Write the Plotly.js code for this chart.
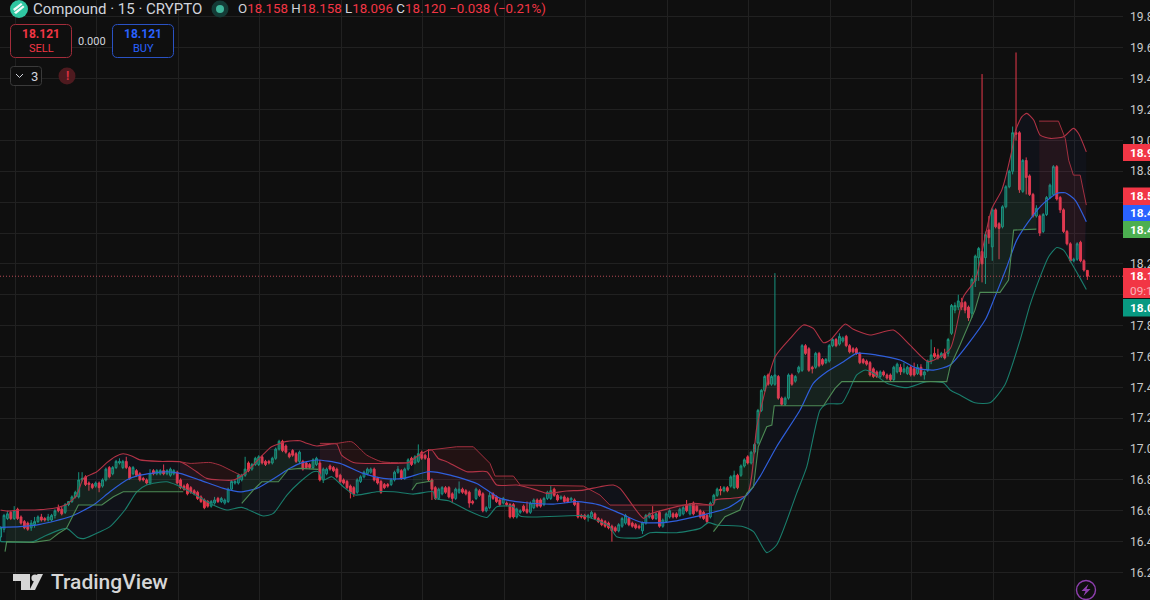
<!DOCTYPE html>
<html><head><meta charset="utf-8">
<script src="https://cdn.plot.ly/plotly-3.0.1.min.js"></script>
<style>html,body{margin:0;padding:0;width:1150px;height:600px;overflow:hidden;background:#0f0f0f}#c{width:1200px;height:610px}</style>
</head><body><div id="c"></div>
<script>
const firstBar = -4;
const opens = [
16.43,16.48,16.55,16.59,16.55,16.61,16.56,16.53,16.52,16.49,
16.51,16.53,16.56,16.55,16.54,16.54,16.57,16.62,16.61,16.59,
16.64,16.66,16.69,16.69,16.80,16.82,16.78,16.77,16.76,16.78,
16.76,16.80,16.88,16.84,16.88,16.91,16.88,16.92,16.88,16.84,
16.86,16.84,16.81,16.80,16.78,16.86,16.84,16.84,16.86,16.84,
16.83,16.84,16.85,16.80,16.76,16.77,16.75,16.73,16.72,16.69,
16.67,16.66,16.63,16.65,16.68,16.66,16.65,16.66,16.74,16.78,
16.78,16.80,16.83,16.91,16.87,16.90,16.90,16.95,16.92,16.92,
16.91,16.94,17.00,17.05,17.02,16.97,16.99,16.97,16.92,16.92,
16.91,16.90,16.88,16.90,16.91,16.80,16.84,16.89,16.88,16.87,
16.83,16.80,16.79,16.76,16.75,16.72,16.79,16.82,16.84,16.85,
16.87,16.81,16.79,16.77,16.77,16.77,16.80,16.85,16.86,16.81,
16.87,16.94,16.91,16.92,16.98,16.96,16.94,16.80,16.75,16.68,
16.71,16.75,16.75,16.71,16.68,16.72,16.74,16.73,16.72,16.66,
16.68,16.73,16.71,16.60,16.62,16.71,16.69,16.67,16.65,16.65,
16.64,16.64,16.56,16.59,16.63,16.61,16.59,16.62,16.67,16.67,
16.64,16.68,16.68,16.74,16.70,16.68,16.69,16.68,16.67,16.67,
16.65,16.57,16.57,16.56,16.56,16.58,16.55,16.54,16.53,16.52,
16.50,16.49,16.47,16.50,16.52,16.55,16.52,16.51,16.50,16.47,
16.52,16.56,16.57,16.55,16.59,16.50,16.53,16.56,16.58,16.58,
16.57,16.58,16.64,16.58,16.65,16.63,16.60,16.59,16.57,16.56,
16.65,16.70,16.74,16.73,16.75,16.76,16.75,16.83,16.83,16.89,
16.95,16.91,16.98,17.04,17.25,17.38,17.48,17.42,17.42,17.47,
17.33,17.29,17.33,17.48,17.44,17.50,17.51,17.67,17.65,17.53,
17.53,17.62,17.58,17.56,17.57,17.67,17.71,17.68,17.70,17.73,
17.67,17.65,17.65,17.62,17.58,17.57,17.56,17.52,17.50,17.47,
17.50,17.48,17.48,17.45,17.50,17.53,17.50,17.49,17.53,17.52,
17.49,17.53,17.48,17.51,17.57,17.62,17.61,17.60,17.62,17.62,
17.75,17.90,17.92,17.95,17.95,17.92,17.88,18.09,18.24,18.28,
18.24,18.42,18.31,18.55,18.46,18.44,18.57,18.70,18.80,19.05,
19.05,18.67,18.87,18.77,18.65,18.51,18.51,18.41,18.52,18.63,
18.65,18.83,18.63,18.55,18.41,18.33,18.22,18.23,18.34,18.22,18.158];
const closes = [
16.49,16.57,16.58,16.55,16.60,16.55,16.52,16.49,16.48,16.52,
16.53,16.56,16.54,16.54,16.56,16.57,16.60,16.60,16.58,16.64,
16.66,16.69,16.72,16.80,16.81,16.77,16.77,16.75,16.78,16.75,
16.80,16.87,16.82,16.88,16.92,16.92,16.92,16.88,16.81,16.88,
16.83,16.80,16.80,16.78,16.84,16.84,16.86,16.86,16.84,16.86,
16.87,16.86,16.78,16.75,16.74,16.71,16.72,16.71,16.68,16.66,
16.62,16.63,16.66,16.67,16.66,16.68,16.67,16.74,16.79,16.79,
16.83,16.83,16.87,16.86,16.90,16.94,16.95,16.91,16.90,16.91,
16.94,17.00,17.05,16.99,16.98,16.95,16.96,16.92,16.98,16.87,
16.88,16.88,16.93,16.94,16.80,16.87,16.87,16.87,16.86,16.82,
16.79,16.78,16.75,16.72,16.71,16.80,16.82,16.85,16.87,16.87,
16.80,16.78,16.72,16.75,16.76,16.80,16.85,16.87,16.81,16.87,
16.93,16.90,16.95,16.97,16.94,16.94,16.80,16.74,16.68,16.74,
16.75,16.72,16.69,16.68,16.74,16.74,16.72,16.71,16.65,16.65,
16.74,16.70,16.60,16.62,16.70,16.68,16.66,16.64,16.68,16.64,
16.56,16.56,16.61,16.60,16.60,16.59,16.65,16.67,16.63,16.63,
16.68,16.72,16.73,16.70,16.67,16.69,16.66,16.66,16.68,16.64,
16.56,16.56,16.55,16.57,16.59,16.55,16.53,16.51,16.50,16.49,
16.47,16.47,16.51,16.55,16.57,16.51,16.50,16.49,16.49,16.52,
16.57,16.58,16.55,16.58,16.50,16.54,16.58,16.60,16.56,16.56,
16.61,16.62,16.60,16.64,16.58,16.60,16.56,16.55,16.53,16.65,
16.70,16.74,16.73,16.75,16.73,16.82,16.83,16.75,16.89,16.93,
16.91,16.98,17.03,17.25,17.38,17.47,17.42,17.47,17.48,17.33,
17.29,17.33,17.48,17.42,17.47,17.53,17.67,17.62,17.51,17.52,
17.62,17.54,17.55,17.58,17.67,17.71,17.67,17.73,17.72,17.67,
17.63,17.63,17.62,17.56,17.56,17.55,17.48,17.47,17.47,17.50,
17.48,17.46,17.45,17.53,17.55,17.50,17.52,17.53,17.48,17.48,
17.53,17.48,17.50,17.57,17.61,17.60,17.59,17.62,17.59,17.71,
17.93,17.93,17.96,17.92,17.90,17.85,18.10,18.25,18.30,18.20,
18.39,18.37,18.55,18.44,18.43,18.57,18.70,18.80,19.05,19.04,
18.68,18.87,18.76,18.65,18.51,18.56,18.40,18.52,18.63,18.71,
18.83,18.62,18.55,18.41,18.33,18.22,18.23,18.33,18.22,18.16,18.120];
const highs = [
16.50,16.58,16.60,16.60,16.63,16.62,16.57,16.54,16.53,16.54,
16.56,16.57,16.58,16.56,16.58,16.58,16.61,16.64,16.63,16.65,
16.66,16.70,16.73,16.85,16.85,16.83,16.79,16.78,16.79,16.79,
16.81,16.88,16.89,16.89,16.93,16.94,16.93,16.95,16.89,16.89,
16.87,16.85,16.82,16.81,16.87,16.87,16.87,16.87,16.90,16.87,
16.88,16.87,16.86,16.81,16.77,16.78,16.76,16.74,16.73,16.70,
16.68,16.67,16.67,16.69,16.69,16.69,16.68,16.75,16.80,16.80,
16.84,16.84,16.95,16.92,16.91,16.95,16.96,16.96,16.93,16.93,
16.95,17.01,17.06,17.06,17.03,16.98,17.00,16.98,16.99,16.93,
16.92,16.91,16.94,16.95,16.93,16.88,16.88,16.90,16.89,16.88,
16.84,16.81,16.80,16.77,16.76,16.81,16.83,16.86,16.88,16.88,
16.88,16.82,16.80,16.78,16.78,16.81,16.86,16.89,16.87,16.88,
16.94,16.95,16.96,17.03,16.99,16.97,17.00,16.81,16.76,16.75,
16.76,16.76,16.76,16.72,16.75,16.79,16.75,16.74,16.73,16.67,
16.75,16.74,16.72,16.63,16.72,16.72,16.70,16.68,16.69,16.66,
16.65,16.65,16.62,16.61,16.64,16.66,16.66,16.68,16.68,16.68,
16.69,16.73,16.76,16.75,16.71,16.70,16.70,16.69,16.69,16.68,
16.66,16.58,16.58,16.58,16.60,16.59,16.56,16.55,16.54,16.53,
16.51,16.50,16.52,16.56,16.58,16.56,16.53,16.52,16.51,16.53,
16.58,16.59,16.63,16.59,16.60,16.55,16.59,16.61,16.59,16.59,
16.62,16.63,16.67,16.65,16.66,16.64,16.61,16.60,16.58,16.66,
16.71,16.75,16.76,16.76,16.76,16.83,16.86,16.84,16.90,16.94,
16.96,16.99,17.04,17.26,17.39,17.48,17.49,17.48,18.14,17.48,
17.34,17.34,17.49,17.49,17.48,17.54,17.68,17.68,17.66,17.54,
17.63,17.63,17.59,17.59,17.68,17.72,17.72,17.75,17.73,17.74,
17.68,17.66,17.66,17.63,17.59,17.58,17.57,17.53,17.51,17.51,
17.51,17.49,17.49,17.54,17.56,17.55,17.56,17.54,17.54,17.56,
17.55,17.55,17.51,17.58,17.71,17.66,17.65,17.63,17.65,17.72,
17.94,17.95,18.00,17.98,17.96,17.93,18.11,18.26,18.31,19.43,
18.41,18.51,18.56,18.56,18.47,18.58,18.71,18.81,19.09,19.57,
19.06,18.88,18.89,18.78,18.66,18.58,18.52,18.53,18.64,18.72,
18.84,18.84,18.64,18.56,18.42,18.34,18.24,18.34,18.35,18.23,18.158];
const lows = [
16.40,16.46,16.54,16.54,16.54,16.54,16.51,16.48,16.47,16.47,
16.49,16.52,16.53,16.53,16.53,16.53,16.55,16.59,16.57,16.58,
16.63,16.65,16.68,16.68,16.79,16.76,16.73,16.74,16.75,16.72,
16.75,16.79,16.81,16.83,16.87,16.90,16.87,16.87,16.80,16.83,
16.82,16.79,16.79,16.77,16.77,16.83,16.83,16.83,16.83,16.83,
16.82,16.83,16.77,16.74,16.73,16.70,16.71,16.70,16.67,16.65,
16.61,16.62,16.62,16.64,16.65,16.65,16.64,16.65,16.73,16.77,
16.77,16.79,16.82,16.85,16.86,16.89,16.89,16.90,16.89,16.90,
16.90,16.93,16.99,16.98,16.97,16.94,16.95,16.91,16.91,16.86,
16.87,16.87,16.87,16.89,16.79,16.78,16.83,16.86,16.85,16.81,
16.78,16.77,16.74,16.68,16.69,16.71,16.78,16.81,16.83,16.84,
16.79,16.77,16.71,16.74,16.75,16.76,16.79,16.84,16.80,16.80,
16.86,16.89,16.90,16.91,16.93,16.93,16.79,16.67,16.67,16.67,
16.70,16.71,16.68,16.65,16.67,16.71,16.71,16.70,16.62,16.64,
16.67,16.69,16.59,16.59,16.61,16.67,16.65,16.63,16.64,16.63,
16.55,16.55,16.55,16.58,16.59,16.58,16.58,16.61,16.62,16.62,
16.63,16.67,16.67,16.69,16.66,16.67,16.65,16.65,16.66,16.63,
16.55,16.55,16.54,16.53,16.55,16.54,16.52,16.50,16.49,16.48,
16.40,16.46,16.46,16.49,16.51,16.50,16.49,16.48,16.48,16.45,
16.51,16.55,16.54,16.54,16.49,16.49,16.52,16.55,16.55,16.55,
16.56,16.57,16.59,16.57,16.57,16.59,16.55,16.54,16.52,16.55,
16.64,16.69,16.70,16.72,16.72,16.75,16.74,16.74,16.82,16.88,
16.90,16.90,16.97,17.03,17.24,17.37,17.41,17.41,17.41,17.32,
17.28,17.28,17.32,17.41,17.43,17.49,17.50,17.61,17.50,17.49,
17.52,17.53,17.54,17.55,17.56,17.66,17.66,17.67,17.69,17.66,
17.62,17.62,17.61,17.55,17.55,17.54,17.47,17.46,17.46,17.46,
17.47,17.45,17.44,17.44,17.49,17.48,17.49,17.48,17.47,17.47,
17.48,17.47,17.45,17.50,17.55,17.59,17.58,17.59,17.58,17.60,
17.74,17.88,17.90,17.90,17.88,17.83,17.85,18.05,18.09,18.08,
18.07,18.33,18.22,18.43,18.23,18.43,18.56,18.69,18.78,19.00,
18.66,18.66,18.65,18.64,18.50,18.50,18.38,18.40,18.51,18.62,
18.64,18.61,18.53,18.40,18.32,18.21,18.21,18.22,18.21,18.15,18.096];

const bbUpperBars = [-4,-2,2,6,12.5,15.4,18.4,20.4,24.3,27.2,29.7,32.1,34.6,37,43,48.8,50.8,53.7,56.7,64.5,67,69,73.4,75.8,80.3,84.2,86.1,89.1,93,95,96.4,99.9,108.7,116.1,118.5,122,123,124.9,127.4,133.3,139.2,142.1,148,153.9,156.8,162.7,167.6,172.5,176.4,178.4,185.3,187.2,200,205.9,206.4,215.7,218.7,224.1,228.5,232.4,235.3,238.3,240.3,244.7,247.1,252,258.9,263.8,269.2,275.6,279.5,283,284.9,285.9,287.9,290.8,293.8,294.9,296.7,298.2,300.2,302.1,305.1,309,311.9,313.4,315.7];
const bbUpperPrices = [16.605,16.598,16.605,16.605,16.62,16.64,16.70,16.81,16.853,16.91,16.95,16.97,16.955,16.93,16.92,16.918,16.896,16.853,16.81,16.799,16.827,16.864,16.967,17.015,17.05,17.054,17.037,17.02,17.032,17.032,16.961,16.913,16.907,16.913,16.95,16.993,16.993,16.939,16.918,16.853,16.853,16.767,16.767,16.734,16.713,16.728,16.734,16.756,16.767,16.745,16.551,16.579,16.648,16.638,16.67,16.702,17.145,17.599,17.717,17.804,17.782,17.689,17.707,17.81,17.776,17.739,17.771,17.674,17.566,17.65,17.987,18.095,18.27,18.376,18.56,18.678,18.937,19.067,19.153,19.175,19.132,19.034,19.013,19.024,19.078,19.045,18.926];
const bbLowerBars = [-4,5.6,8.6,15.4,18.9,20.8,25.3,28.2,32.6,36.1,39,44.9,47.8,51.8,58.6,62.6,67,73.4,76.3,80.3,84.2,88.1,89.6,91,93.5,96.9,100.4,106.7,111.7,117.5,122,123.4,123.9,127.9,133.3,139.2,142.1,147,149,167.6,172.5,175.4,177.4,184.3,187.2,195.1,202,204.4,206.9,214.7,217.7,221.6,224.5,230.4,233.4,237.3,239.3,243.7,245.7,248.1,250.6,253,257,262.8,268.7,273.6,275.6,278.5,282.9,287.3,291.7,296.2,299.1,302.1,304.6,307,309,311.4,313.9,315.7];
const bbLowerPrices = [16.40,16.40,16.432,16.486,16.425,16.421,16.464,16.497,16.605,16.723,16.767,16.788,16.767,16.723,16.637,16.605,16.622,16.566,16.583,16.702,16.788,16.853,16.853,16.799,16.821,16.756,16.702,16.723,16.723,16.708,16.723,16.723,16.68,16.665,16.605,16.557,16.626,16.626,16.566,16.568,16.53,16.497,16.432,16.426,16.458,16.458,16.486,16.523,16.508,16.497,16.465,16.329,16.378,16.713,16.886,17.253,17.292,17.296,17.372,17.48,17.512,17.491,17.426,17.398,17.437,17.43,17.383,17.35,17.30,17.30,17.415,17.706,17.933,18.116,18.246,18.306,18.289,18.203,18.106,18.034];
const basisBars = [-4,1.7,7.6,16.4,23.3,28.2,33.1,37,44.9,48.8,54.7,61.6,66.5,71.4,77.3,81.2,84.2,89.1,95.9,102.8,108.7,114.6,122,128.4,136.2,143.1,150.9,158.8,165.7,172.5,178.4,184.8,192.1,202.9,209.8,215.7,219.6,224.5,231.4,235.3,239.3,244.2,248.1,254,260.9,265.8,270.7,275.6,285.9,288.4,292.3,295.2,299.7,303.1,307,309.5,312.4,315.7];
const basisPrices = [16.492,16.497,16.512,16.561,16.637,16.723,16.799,16.831,16.853,16.842,16.799,16.745,16.723,16.745,16.821,16.875,16.907,16.929,16.907,16.842,16.81,16.81,16.853,16.831,16.777,16.68,16.652,16.643,16.659,16.637,16.583,16.525,16.525,16.573,16.616,16.702,16.821,17.015,17.253,17.426,17.501,17.566,17.62,17.609,17.577,17.523,17.512,17.545,17.836,17.965,18.181,18.354,18.505,18.592,18.656,18.661,18.613,18.473];

const resistanceA = {bars:[48.8,51.8,57.7,60.6,63.6,67], prices:[16.918,16.907,16.913,16.896,16.864,16.827]};
const resistanceB = {bars:[90,95,99.4,103.8,108.2,116.1], prices:[17.037,17.037,17.047,16.961,16.918,16.911]};
const resistanceC = {bars:[122,126.4,130.3,135.2,140.1,141.6,147,149,167.6,172.5,175.4,205.9], prices:[16.993,17.004,17.015,17.015,16.907,16.825,16.825,16.767,16.76,16.702,16.637,16.637]};
const resistanceD = {bars:[301.8,307.5,309.5,310.5,311.9,313.9,315.7], prices:[19.125,19.125,19.013,18.872,18.775,18.775,18.581]};
const supportA = {bars:[-2.7,-2.2,5.6,10.5,13,15.4,17.4,18.9,25.8,29.2,32.1,49.8], prices:[16.335,16.40,16.395,16.41,16.453,16.486,16.572,16.637,16.637,16.691,16.723,16.723]};
const supportB = {bars:[67,70.4,72.9,77.8,80.7,84.2,89.6], prices:[16.648,16.734,16.788,16.788,16.868,16.875,16.868]};
const supportC = {bars:[117.1,118.5,123.4], prices:[16.734,16.777,16.795]};
const supportD = {bars:[205.9,209.3,213.7,215.7,217.7,219.1,221.6,223.1,223.8,238.3,241.7,243.7,274.6,275.6,278.5,282.9,284.4,290.3,292.8,294.3,301], prices:[16.465,16.562,16.605,16.713,16.756,17.015,17.145,17.156,17.281,17.281,17.393,17.437,17.437,17.534,17.674,17.90,18.015,18.015,18.095,18.419,18.425]};

const priceTicks = [16.0,16.2,16.4,16.6,16.8,17.0,17.2,17.4,17.6,17.8,18.0,18.2,18.4,18.6,18.8,19.0,19.2,19.4,19.6,19.8];
const priceTickLabels = ['16.000','16.200','16.400','16.600','16.800','17.000','17.200','17.400','17.600','17.800','','18.200','','','18.800','19.000','19.200','19.400','19.600','19.800'];
const gridBars = [0.24,24.24,48.24,72.24,96.24,120.24,144.24,168.24,192.24,216.24,240.24,264.24,288.24,312.24];
const lastPrice = 18.12;
const legendTitle = 'Compound · 15 · CRYPTO';
const legendOHLC = '<span style="color:#d1d4dc">O</span>18.158 <span style="color:#d1d4dc">H</span>18.158 <span style="color:#d1d4dc">L</span>18.096 <span style="color:#d1d4dc">C</span>18.120 −0.038 (−0.21%)';
const priceTags = [
 {top:144,bottom:161,color:'#f23645',text:'18.926'},
 {top:187.5,bottom:205,color:'#f23645',text:'18.581'},
 {top:205,bottom:221,color:'#2962ff',text:'18.473'},
 {top:221,bottom:238,color:'#4caf50',text:'18.425'},
 {top:268,bottom:298,color:'#f23645',text:'18.120<br><span style="color:#f7b3ba;font-weight:400">09:14</span>'},
 {top:299,bottom:316.5,color:'#089981',text:'18.034'}
];

const bars = opens.map((_, k) => k + firstBar);
const fx = px => px / 1123, fy = py => 1 - py / 610;
const P = (x, y) => fx(x) + ',' + fy(y);
function roundRect(x0, y0, x1, y1, r) {
  return 'M' + P(x0 + r, y0) + ' L' + P(x1 - r, y0) + ' Q' + P(x1, y0) + ' ' + P(x1, y0 + r) +
    ' L' + P(x1, y1 - r) + ' Q' + P(x1, y1) + ' ' + P(x1 - r, y1) + ' L' + P(x0 + r, y1) +
    ' Q' + P(x0, y1) + ' ' + P(x0, y1 - r) + ' L' + P(x0, y0 + r) + ' Q' + P(x0, y0) + ' ' + P(x0 + r, y0) + ' Z';
}
function poly(pts) { return 'M' + pts.map(p => P(p[0], p[1])).join(' L') + ' Z'; }
function rr(x0, y0, x1, y1, r, line, fill, lw) {
  return {type:'path', xref:'paper', yref:'paper', path:roundRect(x0, y0, x1, y1, r), line:{color:line, width:lw || 1}, fillcolor:fill || 'rgba(0,0,0,0)', layer:'above'};
}
function circle(cx, cy, r, line, fill, lw) {
  return {type:'circle', xref:'paper', yref:'paper', x0:fx(cx - r), x1:fx(cx + r), y0:fy(cy + r), y1:fy(cy - r), line:{color:line, width:lw === undefined ? 1 : lw}, fillcolor:fill || 'rgba(0,0,0,0)', layer:'above'};
}
function solid(pts, color) {
  return {type:'path', xref:'paper', yref:'paper', path:poly(pts), line:{width:0}, fillcolor:color, layer:'above'};
}
function note(x, y, text, size, color, anchor, extra) {
  return Object.assign({xref:'paper', yref:'paper', x:fx(x), y:fy(y), text:text, showarrow:false, xanchor:anchor || 'left', yanchor:'middle', align:'left', font:Object.assign({family:'Roboto, "Noto Sans", sans-serif', size:size, color:color}, extra && extra.font)}, extra && extra.opts);
}
function zone(seg, color) {
  const from = Math.ceil(seg.bars[0]), to = Math.floor(seg.bars[seg.bars.length - 1]);
  const xs = seg.bars.slice(), ys = seg.prices.slice();
  for (let j = to; j >= from; j--) { xs.push(j); ys.push(closes[j - firstBar]); }
  return {x:xs, y:ys, type:'scatter', mode:'lines', line:{width:0}, fill:'toself', fillcolor:color, hoverinfo:'skip'};
}
function curve(x, y, color, width, shape) {
  return {x:x, y:y, type:'scatter', mode:'lines', line:{color:color, width:width, shape:shape || 'spline', smoothing:0.6}, hoverinfo:'skip'};
}
const bandX = bbUpperBars.concat(bbLowerBars.slice().reverse());
const bandY = bbUpperPrices.concat(bbLowerPrices.slice().reverse());
const RED_ZONE = 'rgba(242,54,69,0.085)', GREEN_ZONE = 'rgba(76,175,80,0.10)';
const RED_LINE = '#a3303f', GREEN_LINE = '#4d8a55', RED_BAND = '#b23346', TEAL_BAND = '#1a7d6c';

const traces = [
 {x:bandX, y:bandY, type:'scatter', mode:'lines', line:{width:0}, fill:'toself', fillcolor:'rgba(41,98,255,0.045)', hoverinfo:'skip'},
 zone(resistanceA, RED_ZONE), zone(resistanceB, RED_ZONE), zone(resistanceC, RED_ZONE), zone(resistanceD, RED_ZONE),
 zone(supportA, GREEN_ZONE), zone(supportB, GREEN_ZONE), zone(supportC, GREEN_ZONE), zone(supportD, GREEN_ZONE),
 {x:bars, open:opens, high:highs, low:lows, close:closes, type:'candlestick',
  increasing:{line:{color:'#17937f', width:1}, fillcolor:'rgba(8,153,129,0.45)'},
  decreasing:{line:{color:'#e8394b', width:1}, fillcolor:'#e8394b'}, whiskerwidth:0, hoverinfo:'skip'},
 curve(bbUpperBars, bbUpperPrices, RED_BAND, 1.1),
 curve(bbLowerBars, bbLowerPrices, TEAL_BAND, 1.1),
 curve(basisBars, basisPrices, '#2f5fdc', 1.2),
 curve(resistanceA.bars, resistanceA.prices, RED_LINE, 1),
 curve(resistanceB.bars, resistanceB.prices, RED_LINE, 1),
 curve(resistanceC.bars, resistanceC.prices, RED_LINE, 1, 'linear'),
 curve(resistanceD.bars, resistanceD.prices, RED_LINE, 1, 'linear'),
 curve(supportA.bars, supportA.prices, GREEN_LINE, 1.1, 'linear'),
 curve(supportB.bars, supportB.prices, GREEN_LINE, 1.1, 'linear'),
 curve(supportC.bars, supportC.prices, GREEN_LINE, 1.1, 'linear'),
 curve(supportD.bars, supportD.prices, GREEN_LINE, 1.1, 'linear')
];

const shapes = [
 {type:'line', xref:'paper', yref:'y', x0:0, x1:1, y0:lastPrice, y1:lastPrice, line:{color:'#b84a55', width:1, dash:'1px,2px'}, layer:'above'},
 rr(10.5, 24.5, 71.5, 57.5, 5, '#a32d3b', '#0f0f0f'),
 rr(112.5, 24.5, 173.5, 57.5, 5, '#2a52c4', '#0f0f0f'),
 rr(10.5, 66.5, 41.5, 85.5, 3, '#3a3a3a', '#0f0f0f'),
 {type:'path', xref:'paper', yref:'paper', path:'M' + P(16, 74) + ' L' + P(19.5, 77.5) + ' L' + P(23, 74), line:{color:'#d1d4dc', width:1}, layer:'above'},
 circle(67, 76, 8.5, 'rgba(0,0,0,0)', '#4e1a1f', 0),
 circle(19, 9, 9, 'rgba(0,0,0,0)', '#2fc6a1', 0),
 solid([[13,9],[21,3],[22.5,4.5],[14.5,11]], '#f2fbf8'),
 solid([[14,12.5],[23,5.5],[24.5,7],[16,14]], '#f2fbf8'),
 circle(220, 9, 8.5, 'rgba(0,0,0,0)', '#143b36', 0),
 circle(220, 9, 4, 'rgba(0,0,0,0)', '#3fb79b', 0),
 solid([[13,574],[30,574],[30,590],[21,590],[21,581],[13,581]], '#d6d6d6'),
 circle(35, 578, 3.6, 'rgba(0,0,0,0)', '#d6d6d6', 0),
 solid([[43,574],[35,590],[29.5,590],[37.5,574]], '#d6d6d6'),
 circle(1086, 590, 9.5, '#8e3fae', 'rgba(0,0,0,0)', 1.4),
 solid([[1088.5,584],[1081.5,591],[1085.5,591],[1083.5,596],[1090.5,589],[1086.5,589]], '#8e3fae')
];
priceTags.forEach(t => shapes.push({type:'rect', xref:'paper', yref:'paper', x0:fx(1123), x1:fx(1200), y0:fy(t.bottom), y1:fy(t.top), line:{width:0}, fillcolor:t.color, layer:'above'}));

const annotations = [
 note(30.5, 8.5, legendTitle, 15, '#d1d4dc'),
 note(235.5, 8.5, legendOHLC, 13.3, '#f23645'),
 note(41, 34, '<b>18.121</b>', 12, '#f23645', 'center'),
 note(41, 48, 'SELL', 11, '#f23645', 'center'),
 note(92, 41, '0.000', 11, '#d1d4dc', 'center'),
 note(143, 34, '<b>18.121</b>', 12, '#2962ff', 'center'),
 note(143, 48, 'BUY', 11, '#2962ff', 'center'),
 note(29, 76, '3', 13, '#d1d4dc'),
 note(67, 76, '<b>!</b>', 12, '#d9303f', 'center'),
 note(48.5, 582, 'TradingView', 21, '#d6d6d6', 'left', {font:{weight:500}})
];
priceTags.forEach(t => annotations.push(note(1127.5, (t.top + t.bottom) / 2, '<b>' + t.text + '</b>', 11.8, '#ffffff')));

const layout = {
 width:1200, height:610, margin:{l:0, r:77, t:0, b:0}, showlegend:false, hovermode:false,
 paper_bgcolor:'#0f0f0f', plot_bgcolor:'#0f0f0f', boxgap:0.22,
 xaxis:{range:[-4.18, 326.5], tickmode:'array', tickvals:gridBars, showticklabels:false, ticks:'', gridcolor:'#212121', gridwidth:1, zeroline:false, showline:false, rangeslider:{visible:false}, fixedrange:true},
 yaxis:{range:[15.957, 19.91], side:'right', tickmode:'array', tickvals:priceTicks, ticktext:priceTickLabels, ticks:'', ticklabelstandoff:6, gridcolor:'#212121', gridwidth:1, zeroline:false, showline:false, tickfont:{family:'Roboto, "Noto Sans", sans-serif', size:12, color:'#c9c9c9'}, fixedrange:true, automargin:false},
 shapes:shapes, annotations:annotations
};
Plotly.newPlot('c', traces, layout, {displayModeBar:false, staticPlot:true});
</script></body></html>
